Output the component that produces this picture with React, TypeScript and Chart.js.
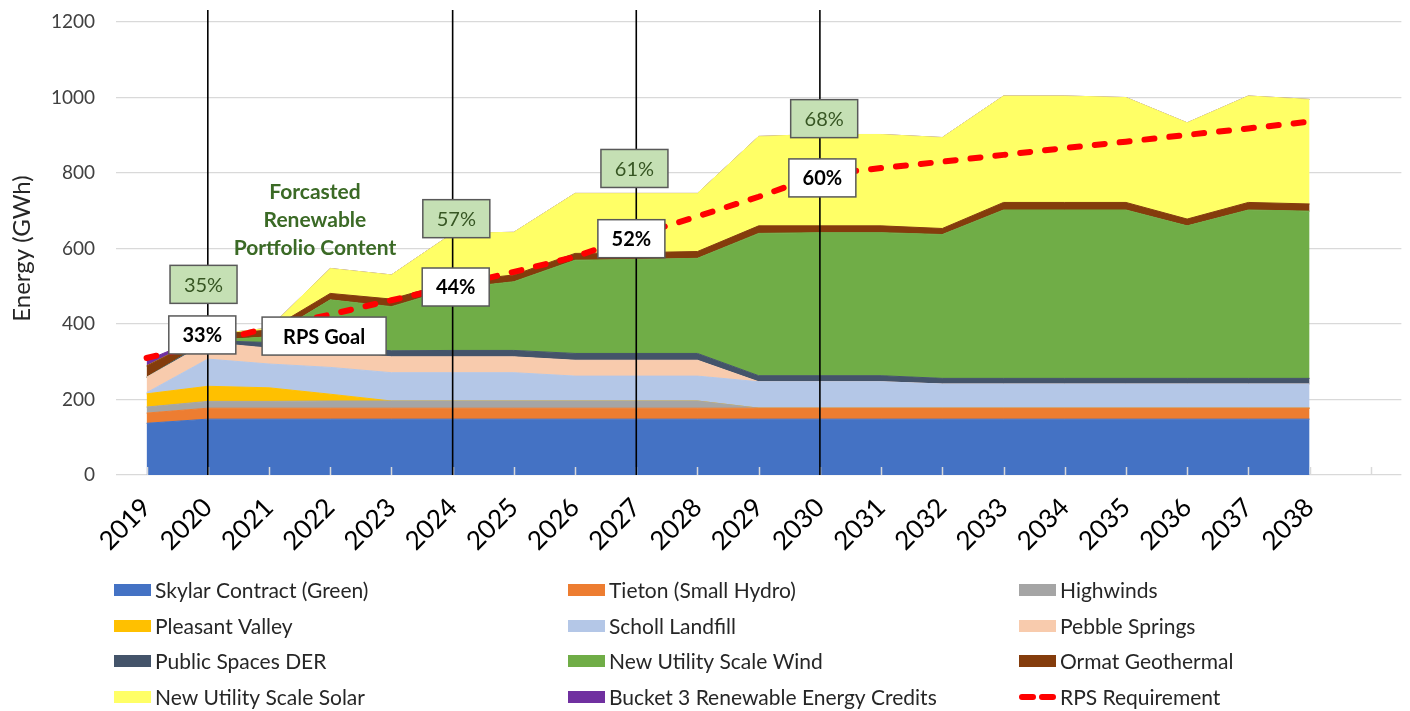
import React, { useEffect, useRef } from 'react';
import { Chart, registerables } from 'chart.js';

Chart.register(...registerables);

// ---------- DATA ----------
const years = ['2019', '2020', '2021', '2022', '2023', '2024', '2025', '2026', '2027', '2028', '2029', '2030', '2031', '2032', '2033', '2034', '2035', '2036', '2037', '2038', ''];

const skylar = [137, 148, 148, 148, 148, 148, 148, 148, 148, 148, 148, 148, 148, 148, 148, 148, 148, 148, 148, 148];
const tieton = [27, 29, 29, 29, 29, 29, 29, 29, 29, 29, 29, 29, 29, 29, 29, 29, 29, 29, 29, 29];
const highwinds = [16, 18, 18, 19, 19, 19, 19, 19, 19, 19, 0, 0, 0, 0, 0, 0, 0, 0, 0, 0];
const pleasantValley = [35, 40, 36, 18, 0, 0, 0, 0, 0, 0, 0, 0, 0, 0, 0, 0, 0, 0, 0, 0];
const schollLandfill = [3, 72, 63, 71, 75, 75, 75, 66, 66, 66, 70, 70, 70, 64, 64, 64, 64, 64, 64, 64];
const pebbleSprings = [41, 44, 42, 42, 42, 42, 42, 42, 42, 42, 0, 0, 0, 0, 0, 0, 0, 0, 0, 0];
const publicSpacesDER = [0, 5, 15, 15, 16, 17, 17, 18, 18, 18, 16, 16, 16, 15, 15, 15, 15, 15, 15, 15];
const utilityWind = [0, 0, 15, 122, 117, 164, 182, 247, 249, 252, 377, 379, 379, 381, 446, 446, 446, 404, 446, 443];
const ormatGeothermal = [30, 15, 18, 17, 20, 18, 18, 18, 18, 18, 20, 18, 18, 16, 20, 20, 20, 18, 20, 19];
const utilitySolar = [0, 0, 5, 66, 64, 128, 113, 159, 157, 154, 237, 242, 242, 241, 282, 282, 278, 255, 282, 277];
const bucket3RECs = [15, 0, 0, 0, 0, 0, 0, 0, 0, 0, 0, 0, 0, 0, 0, 0, 0, 0, 0, 0];
const rpsRequirement = [310, 348, 391, 425, 463, 500, 538, 578, 635, 685, 737, 795, 813, 830, 848, 866, 883, 901, 918, 936];

const yTicks = [0, 200, 400, 600, 800, 1000, 1200];

// annotation content: marker years with vertical lines
const markerYears = ['2020', '2024', '2027', '2030'];
// green boxes: renewable content %, anchored at (category position, value)
const contentLabels = ['35%', '57%', '61%', '68%'];
const contentX = [0.93, 5.06, 7.97, 11.07];
const contentY = [505, 679, 812, 944];
// white boxes: RPS %
const rpsLabels = ['33%', '44%', '52%', '60%', 'RPS Goal'];
const rpsX = [0.91, 5.05, 7.92, 11.04, 2.9];
const rpsY = [371, 498, 626, 787, 368];

const FONT = 'Lato, "Noto Sans", sans-serif';

const seriesDefs = [
  { label: 'Skylar Contract (Green)', data: skylar, color: '#4472c4' },
  { label: 'Tieton (Small Hydro)', data: tieton, color: '#ed7d31' },
  { label: 'Highwinds', data: highwinds, color: '#a5a5a5' },
  { label: 'Pleasant Valley', data: pleasantValley, color: '#ffc000' },
  { label: 'Scholl Landfill', data: schollLandfill, color: '#b4c7e7' },
  { label: 'Pebble Springs', data: pebbleSprings, color: '#f8cbad' },
  { label: 'Public Spaces DER', data: publicSpacesDER, color: '#44546a' },
  { label: 'New Utility Scale Wind', data: utilityWind, color: '#70ad47' },
  { label: 'Ormat Geothermal', data: ormatGeothermal, color: '#843c0c' },
  { label: 'New Utility Scale Solar', data: utilitySolar, color: '#ffff66' },
  { label: 'Bucket 3 Renewable Energy Credits', data: bucket3RECs, color: '#7030a0' },
];

const overlayPlugin = {
  id: 'overlay',
  afterDatasetsDraw(chart: any) {
    const { ctx, chartArea } = chart;
    const x = chart.scales.x;
    const y = chart.scales.y;
    ctx.save();
    // inside tick marks
    ctx.strokeStyle = '#d9d9d9';
    ctx.lineWidth = 1.5;
    for (let i = 0; i < years.length; i++) {
      const px = Math.round(x.getPixelForValue(i)) + 0.5;
      ctx.beginPath();
      ctx.moveTo(px, chartArea.bottom);
      ctx.lineTo(px, chartArea.bottom - 8);
      ctx.stroke();
    }
    // vertical marker lines
    ctx.strokeStyle = '#000';
    ctx.lineWidth = 1.6;
    for (const yr of markerYears) {
      const px = x.getPixelForValue(years.indexOf(yr));
      ctx.beginPath();
      ctx.moveTo(px, chartArea.top - 12);
      ctx.lineTo(px, chartArea.bottom);
      ctx.stroke();
    }
    // boxes
    const drawBox = (cx: number, cy: number, w: number, h: number, fill: string, text: string, color: string, font: string) => {
      ctx.fillStyle = fill;
      ctx.fillRect(cx - w / 2, cy - h / 2, w, h);
      ctx.strokeStyle = '#595959';
      ctx.lineWidth = 1.5;
      ctx.strokeRect(cx - w / 2, cy - h / 2, w, h);
      ctx.fillStyle = color;
      ctx.font = font;
      ctx.textAlign = 'center';
      ctx.textBaseline = 'middle';
      ctx.fillText(text, cx, cy + 1);
    };
    contentLabels.forEach((t, i) => {
      drawBox(x.getPixelForValue(contentX[i]), y.getPixelForValue(contentY[i]), 67, 38, '#c5e0b4', t, '#375623', `20px ${FONT}`);
    });
    rpsLabels.forEach((t, i) => {
      const w = t.length > 4 ? 124 : 67;
      drawBox(x.getPixelForValue(rpsX[i]), y.getPixelForValue(rpsY[i]), w, 38, '#ffffff', t, '#000000', `bold 20px ${FONT}`);
    });
    // forecast caption
    ctx.fillStyle = '#3b6a26';
    ctx.font = `bold 21px ${FONT}`;
    ctx.textAlign = 'center';
    ctx.textBaseline = 'middle';
    const capX = x.getPixelForValue(2.75);
    ['Forcasted', 'Renewable', 'Portfolio Content'].forEach((line, i) => {
      ctx.fillText(line, capX, y.getPixelForValue(748) + i * 28);
    });
    ctx.restore();
  },
  afterDraw(chart: any) {
    const { ctx } = chart;
    ctx.save();
    const colX = [114, 568, 1019];
    const rowY = [590, 626, 661, 697];
    ctx.font = `21px ${FONT}`;
    ctx.textBaseline = 'middle';
    ctx.textAlign = 'left';
    const items = [...seriesDefs.map((s) => ({ label: s.label, color: s.color, dashed: false })), { label: 'RPS Requirement', color: '#ff0000', dashed: true }];
    items.forEach((it, i) => {
      const cx = colX[i % 3];
      const cy = rowY[Math.floor(i / 3)];
      if (it.dashed) {
        ctx.strokeStyle = it.color;
        ctx.lineWidth = 6;
        ctx.lineCap = 'round';
        ctx.setLineDash([11, 9]);
        ctx.beginPath();
        ctx.moveTo(cx + 3, cy);
        ctx.lineTo(cx + 34, cy);
        ctx.stroke();
        ctx.setLineDash([]);
      } else {
        ctx.fillStyle = it.color;
        ctx.fillRect(cx, cy - 6, 37, 12);
      }
      ctx.fillStyle = '#262626';
      ctx.fillText(it.label, cx + 41, cy + 1);
    });
    ctx.restore();
  },
};

export default function App() {
  const ref = useRef<HTMLCanvasElement | null>(null);
  useEffect(() => {
    if (!ref.current) return;
    const datasets: any[] = seriesDefs.map((s, i) => ({
      label: s.label,
      data: s.data,
      backgroundColor: s.color,
      borderColor: s.color,
      borderWidth: 1,
      pointRadius: 0,
      tension: 0,
      fill: i === 0 ? 'origin' : '-1',
      stack: 'energy',
    }));
    datasets.push({
      label: 'RPS Requirement',
      data: rpsRequirement,
      borderColor: '#ff0000',
      backgroundColor: '#ff0000',
      borderWidth: 6,
      borderDash: [10, 15],
      borderCapStyle: 'round',
      pointRadius: 0,
      tension: 0,
      fill: false,
      stack: 'rps',
      order: -1,
    });
    const chart = new Chart(ref.current, {
      type: 'line',
      data: { labels: years, datasets },
      plugins: [overlayPlugin],
      options: {
        responsive: false,
        animation: false,
        layout: { padding: { top: 22, right: 7, left: 0, bottom: 0 } },
        plugins: { legend: { display: false }, tooltip: { enabled: false } },
        scales: {
          x: {
            offset: true,
            grid: { display: false, drawTicks: false },
            border: { display: false },
            ticks: {
              autoSkip: false,
              maxRotation: 45,
              minRotation: 45,
              padding: 17,
              color: '#000',
              font: { family: FONT, size: 26 },
            },
            afterFit: (s: any) => {
              s.height = 236;
            },
          },
          y: {
            stacked: true,
            min: 0,
            max: 1200,
            afterBuildTicks: (s: any) => {
              s.ticks = yTicks.map((v) => ({ value: v }));
            },
            grid: { color: '#d9d9d9', lineWidth: 1.3, drawTicks: false },
            border: { display: false },
            ticks: {
              padding: 21,
              color: '#404040',
              font: { family: FONT, size: 19 },
              callback: (v: any) => String(v),
            },
            title: {
              display: true,
              text: 'Energy (GWh)',
              color: '#262626',
              font: { family: FONT, size: 24 },
              padding: { top: 8, bottom: 0 },
            },
            afterFit: (s: any) => {
              s.width = 116;
              s.paddingTop = 0;
              s.paddingBottom = 0;
            },
          },
        },
      },
    });
    return () => chart.destroy();
  }, []);
  return (
    <div style={{ position: 'absolute', left: 0, top: 0, width: 1410, height: 711, background: '#fff' }}>
      <canvas ref={ref} width={1410} height={711} />
    </div>
  );
}
